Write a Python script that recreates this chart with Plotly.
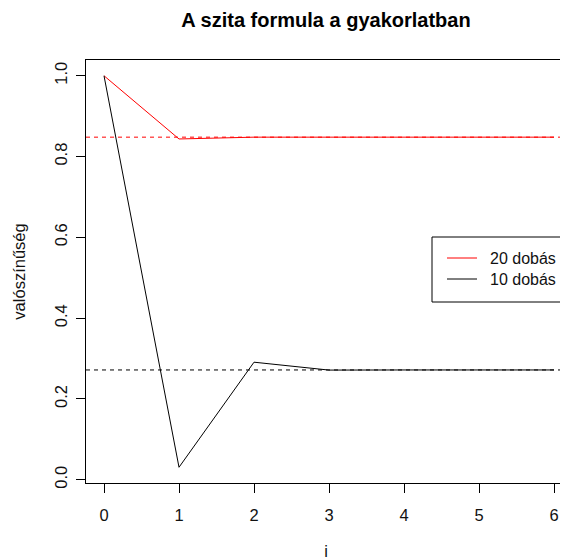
import plotly.graph_objects as go

# partial sums of the inclusion-exclusion formula
steps = [0, 1, 2, 3, 4, 5, 6]
sum_20 = [1.0, 0.8435, 0.8480, 0.8480, 0.8480, 0.8480, 0.8480]
sum_10 = [1.0, 0.0309, 0.2910, 0.2715, 0.2718, 0.2718, 0.2718]
limit_20 = 0.8480
limit_10 = 0.2718
series_names = ["20 dobás", "10 dobás"]
series_colors = ["#ff0000", "#000000"]
y_ticks = [0, 0.2, 0.4, 0.6, 0.8, 1.0]
y_ticktext = ["0.0", "0.2", "0.4", "0.6", "0.8", "1.0"]

font = "Liberation Sans, Arial, sans-serif"
text_color = "#111"

# the page body has an 8px margin, so the figure is drawn 8px smaller
W, H = 560, 552
L, R, T, B = 78, 2, 52, 77


def px_x(p):
    # viewport pixel -> paper x
    return (p - 8 - L) / (W - L - R)


def px_y(p):
    # viewport pixel -> paper y
    return (H - B - (p - 8)) / (H - T - B)


fig = go.Figure()
for name, vals, col in zip(series_names, [sum_20, sum_10], series_colors):
    fig.add_trace(go.Scatter(x=steps, y=vals, mode="lines", name=name,
                             line=dict(color=col, width=1), showlegend=False))

for lim, col in zip([limit_20, limit_10], series_colors):
    fig.add_hline(y=lim, line=dict(color=col, width=1, dash="4px,4px"))

# legend box drawn by hand, like R's legend()
fig.add_shape(type="rect", xref="paper", yref="paper",
              x0=px_x(432), x1=px_x(566), y0=px_y(302), y1=px_y(237),
              line=dict(color="black", width=1), fillcolor="white", layer="above")
for i, (name, col) in enumerate(zip(series_names, series_colors)):
    row = 258 + 21 * i
    fig.add_shape(type="line", xref="paper", yref="paper",
                  x0=px_x(447), x1=px_x(477), y0=px_y(row), y1=px_y(row),
                  line=dict(color=col, width=1), layer="above")
    fig.add_annotation(text=name, xref="paper", yref="paper", x=px_x(488), y=px_y(row),
                       xanchor="left", yanchor="middle", showarrow=False,
                       font=dict(family=font, size=16, color=text_color))

axis_common = dict(
    showgrid=False, zeroline=False, showline=True, mirror=True,
    linecolor="black", linewidth=1, ticks="outside", ticklen=9,
    tickcolor="black", tickwidth=1, automargin=False,
    tickfont=dict(family=font, size=16.5, color=text_color),
)

fig.update_layout(
    width=W, height=H,
    margin=dict(l=L, r=R, t=T, b=B),
    paper_bgcolor="white", plot_bgcolor="white",
    title=dict(text="<b>A szita formula a gyakorlatban</b>", x=318 / W, xanchor="center",
               y=1 - 12 / H, yanchor="middle", font=dict(family=font, size=20, color="black")),
    xaxis=dict(range=[-0.24, 6.16], tickvals=steps, ticklabelstandoff=8,
               title=dict(text="i", font=dict(family=font, size=16.5, color=text_color), standoff=29),
               **axis_common),
    yaxis=dict(range=[-0.008, 1.039], tickvals=y_ticks, ticktext=y_ticktext, tickangle=-90,
               ticklabelstandoff=2,
               title=dict(text="valószínűség", font=dict(family=font, size=16.5, color=text_color),
                          standoff=22),
               **axis_common),
    showlegend=False,
)

fig.write_html("out.html")
